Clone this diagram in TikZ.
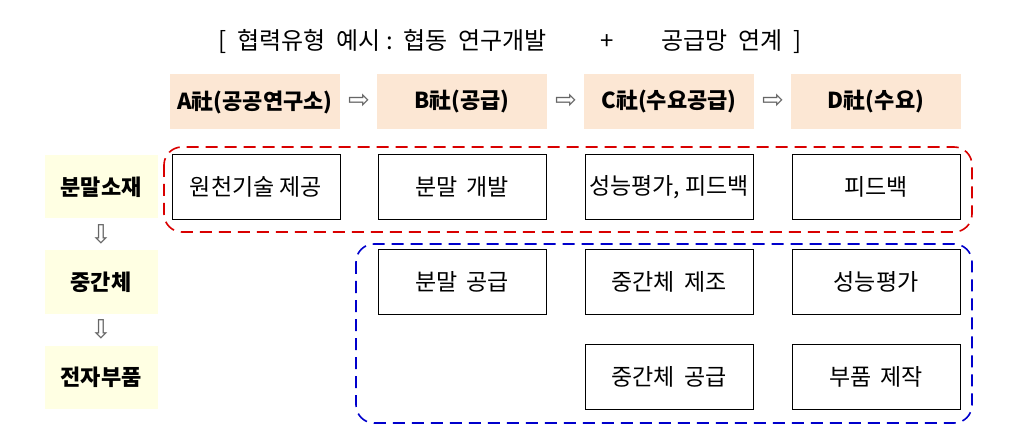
\documentclass[tikz,border=0pt]{standalone}
\usepackage{fontspec}
\setmainfont{Noto Sans CJK KR}
\newfontfamily\sym{DejaVu Sans}
\begin{document}
\begin{tikzpicture}[x=1pt,y=-1pt,
  hdr/.style={fill=peach,minimum width=170pt,minimum height=55pt,font=\fontsize{22}{24}\selectfont\bfseries},
  lft/.style={fill=lyel,minimum width=113pt,minimum height=63pt,font=\fontsize{22}{24}\selectfont\bfseries},
  cell/.style={draw=black,line width=0.8pt,fill=white,minimum width=168pt,minimum height=65pt,font=\fontsize{23}{25}\selectfont},
  arr/.style={font=\sym\fontsize{26}{28}\selectfont,text=gray!80!black},
  grp/.style={dashed,dash pattern=on 12pt off 7pt,line width=1.6pt,rounded corners=18pt}]
\definecolor{peach}{HTML}{FCE7D4}
\definecolor{lyel}{HTML}{FFFFE3}
\useasboundingbox (0,0) rectangle (1024,443);
\node (t) at (510,42) {\fontsize{24}{26}\selectfont [\ \ 협력유형\ \ 예시\ :\ \ 협동\ \ 연구개발 \qquad+\qquad 공급망\ \ 연계\ \ ]};
\node[hdr] (ha) at (255,102) {A社(공공연구소)};
\node[hdr] (hb) at (462,102) {B社(공급)};
\node[hdr] (hc) at (669,102) {C社(수요공급)};
\node[hdr] (hd) at (876,102) {D社(수요)};
\node[arr] (a1) at (359,101) {⇨};
\node[arr] (a2) at (566,101) {⇨};
\node[arr] (a3) at (773,101) {⇨};
\node[lft] (l1) at (101,187) {분말소재};
\node[lft] (l2) at (101,282) {중간체};
\node[lft] (l3) at (101,377) {전자부품};
\node[arr] (d1) at (101,234) {⇩};
\node[arr] (d2) at (101,329) {⇩};
\draw[grp,draw=red!85!black] (164,147) rectangle (972,232);
\draw[grp,draw=blue!80!black] (356,244) rectangle (972,423);
\node[cell] (c11) at (256,187) {원천기술 제공};
\node[cell] (c12) at (462,187) {분말 \,개발};
\node[cell] (c13) at (669,187) {성능평가, 피드백};
\node[cell] (c14) at (876,187) {피드백};
\node[cell] (c22) at (462,282) {분말 \,공급};
\node[cell] (c23) at (669,282) {중간체 \,제조};
\node[cell] (c24) at (876,282) {성능평가};
\node[cell] (c33) at (669,377) {중간체 \,공급};
\node[cell] (c34) at (876,377) {부품 \,제작};
\end{tikzpicture}
\end{document}
